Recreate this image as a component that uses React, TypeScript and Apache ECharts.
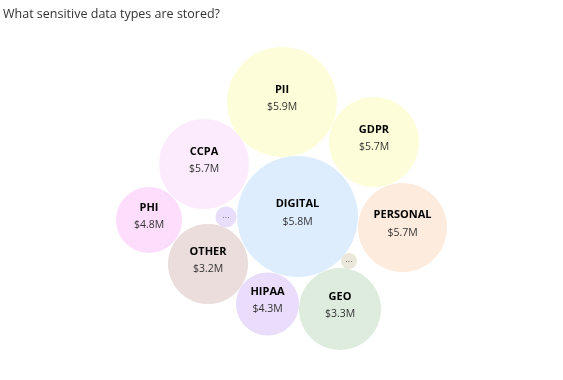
import React, { useEffect, useRef } from "react";
import * as echarts from "echarts";

const titleText = "What sensitive data types are stored?";
const names = ["PII", "GDPR", "CCPA", "PHI", "", "OTHER", "DIGITAL", "PERSONAL", "", "HIPAA", "GEO"];
const values = ["$5.9M", "$5.7M", "$5.7M", "$4.8M", "…", "$3.2M", "$5.8M", "$5.7M", "…", "$4.3M", "$3.3M"];
const bubbleX = [282, 374, 204, 149, 226, 208, 297.5, 402.5, 349, 267.5, 340];
const bubbleY = [102, 142, 164, 220, 217, 264, 216.5, 227.5, 261, 304, 309];
const bubbleR = [55, 45, 45, 33, 10.5, 40, 60.5, 44.5, 8, 31.5, 41];
const colors = ["#FEFDD9", "#FEFDD9", "#FCEBFC", "#FCDEFC", "#E8DEFB", "#EADDDC", "#DDEDFE", "#FDEBDD", "#EBE7DA", "#EADCFB", "#DEECDE"];

export default function App() {
  const ref = useRef<HTMLDivElement>(null);
  useEffect(() => {
    const chart = echarts.init(ref.current!, null, { renderer: "svg" });
    const data = names.map((n, i) => ({
      value: [bubbleX[i], bubbleY[i]],
      symbolSize: bubbleR[i] * 2,
      itemStyle: { color: colors[i], opacity: 1 },
      label: n
        ? {
            show: true,
            position: "inside",
            offset: [0, -5],
            formatter: `{n|${n}}\n{v|${values[i]}}`,
            rich: {
              n: { fontFamily: "Open Sans", fontWeight: "bold", fontSize: 11, color: "#000", lineHeight: 18 },
              v: { fontFamily: "Open Sans", fontSize: 10.5, color: "#333", lineHeight: 18 },
            },
          }
        : {
            show: true,
            position: "inside",
            formatter: "···",
            fontSize: 7,
            color: "#555",
          },
    }));
    chart.setOption({
      animation: false,
      title: {
        text: titleText,
        left: 0,
        top: 2,
        padding: [5, 3],
        textStyle: { fontFamily: "Open Sans", fontSize: 12.5, fontWeight: "normal", color: "#333" },
      },
      grid: { left: 0, right: 0, top: 0, bottom: 0 },
      xAxis: { type: "value", min: 0, max: 563, show: false },
      yAxis: { type: "value", min: 0, max: 380, inverse: true, show: false },
      series: [
        {
          type: "scatter",
          symbol: "circle",
          data,
          itemStyle: { opacity: 1 },
          emphasis: { disabled: true },
        },
      ],
    });
    return () => chart.dispose();
  }, []);
  return <div ref={ref} style={{ position: "fixed", left: 0, top: 0, width: 563, height: 380 }} />;
}
